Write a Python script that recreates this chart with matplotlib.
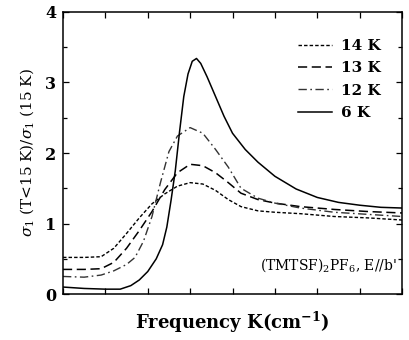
import matplotlib
matplotlib.use("Agg")
import matplotlib.pyplot as plt
from matplotlib.ticker import MultipleLocator, NullFormatter

plt.rcParams["font.family"] = ["DejaVu Serif"]
plt.rcParams["mathtext.fontset"] = "dejavuserif"

# Frequency axis has no numeric labels in the original; use arbitrary units 0..8
x_14 = [0, 0.5, 0.9, 1.2, 1.5, 1.8, 2.1, 2.4, 2.7, 3.0, 3.3, 3.6, 3.9, 4.2, 4.6, 5.0, 5.6, 6.4, 7.2, 8.0]
y_14 = [0.52, 0.52, 0.53, 0.65, 0.86, 1.08, 1.28, 1.42, 1.53, 1.58, 1.56, 1.47, 1.34, 1.24, 1.18, 1.16, 1.14, 1.10, 1.08, 1.05]

x_13 = [0, 0.5, 0.9, 1.2, 1.5, 1.8, 2.1, 2.4, 2.7, 3.0, 3.3, 3.6, 3.9, 4.2, 4.6, 5.0, 5.6, 6.4, 7.2, 8.0]
y_13 = [0.35, 0.35, 0.36, 0.45, 0.65, 0.90, 1.17, 1.48, 1.72, 1.84, 1.82, 1.72, 1.58, 1.43, 1.34, 1.29, 1.24, 1.20, 1.17, 1.15]

x_12 = [0, 0.5, 0.9, 1.2, 1.5, 1.7, 1.9, 2.1, 2.3, 2.5, 2.7, 3.0, 3.3, 3.6, 3.9, 4.2, 4.6, 5.0, 5.6, 6.4, 7.2, 8.0]
y_12 = [0.25, 0.24, 0.27, 0.33, 0.42, 0.52, 0.75, 1.10, 1.58, 2.02, 2.24, 2.36, 2.28, 2.05, 1.80, 1.50, 1.36, 1.29, 1.22, 1.16, 1.13, 1.10]

x_6 = [0, 0.5, 1.0, 1.35, 1.6, 1.8, 2.0, 2.2, 2.35, 2.45, 2.55, 2.65, 2.75, 2.85, 2.95, 3.05,
       3.15, 3.25, 3.4, 3.6, 3.8, 4.0, 4.3, 4.6, 5.0, 5.5, 6.0, 6.5, 7.0, 7.5, 8.0]
y_6 = [0.10, 0.08, 0.07, 0.07, 0.12, 0.20, 0.32, 0.50, 0.70, 0.95, 1.33, 1.75, 2.30, 2.80, 3.12, 3.30,
       3.34, 3.27, 3.08, 2.80, 2.52, 2.28, 2.05, 1.87, 1.67, 1.49, 1.37, 1.30, 1.26, 1.23, 1.22]

labels = ["14 K", "13 K", "12 K", "6 K"]

fig = plt.figure(figsize=(4.09, 3.40), dpi=100)
ax = fig.add_axes([0.154, 0.135, 0.829, 0.83])

ax.plot(x_14, y_14, color="black", lw=1.0, dashes=(2.5, 1.5), label=labels[0])
ax.plot(x_13, y_13, color="black", lw=1.1, dashes=(6, 3), label=labels[1])
ax.plot(x_12, y_12, color="#333333", lw=1.0, dashes=(6, 2.5, 1.2, 2.5), label=labels[2])
ax.plot(x_6, y_6, color="black", lw=1.1, label=labels[3])

ax.set_xlim(0, 8)
ax.set_ylim(0, 4)
ax.xaxis.set_major_locator(MultipleLocator(1))
ax.xaxis.set_major_formatter(NullFormatter())
ax.yaxis.set_major_locator(MultipleLocator(1))
ax.yaxis.set_minor_locator(MultipleLocator(0.5))
ax.tick_params(which="both", direction="in", top=True, right=True, width=0.9)
ax.tick_params(which="major", length=4)
ax.tick_params(which="minor", length=3)
ax.tick_params(axis="y", labelsize=11.5, pad=5)
for lbl in ax.get_yticklabels():
    lbl.set_fontweight("bold")
for s in ax.spines.values():
    s.set_linewidth(1.1)

ax.set_xlabel(r"Frequency K(cm$^{\mathbf{-1}}$)", fontsize=13, fontweight="bold", labelpad=8)
ax.set_ylabel(r"$\sigma_1$ (T<15 K)/$\sigma_1$ (15 K)", fontsize=11, labelpad=6)

leg = ax.legend(loc="upper right", frameon=False, fontsize=11, handlelength=2.2,
                handletextpad=0.6, labelspacing=0.55, borderaxespad=1.0,
                bbox_to_anchor=(1.0, 0.98))
for t in leg.get_texts():
    t.set_fontweight("bold")

ax.text(0.985, 0.103, r"(TMTSF)$_2$PF$_6$, E//b'", transform=ax.transAxes,
        ha="right", va="center", fontsize=10)

fig.savefig("out.png", dpi=100)
